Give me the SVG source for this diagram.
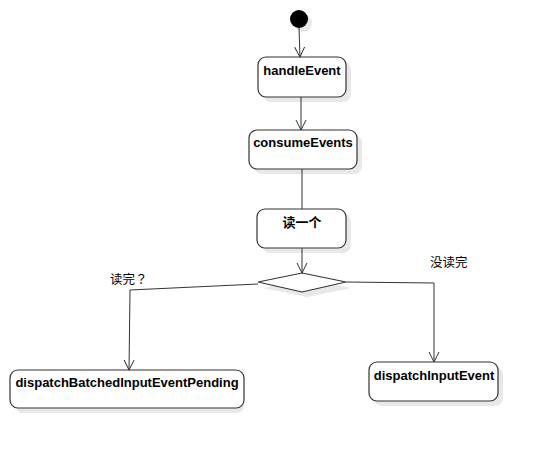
<svg xmlns="http://www.w3.org/2000/svg" width="539" height="449" viewBox="0 0 539 449">
<style>
.box{fill:#fff;stroke:#333;stroke-width:1.2}
.sh{fill:#e8e8e8}
.t{font-family:"Liberation Sans","Noto Sans CJK SC",sans-serif;font-weight:bold;font-size:13px;fill:#000}
.l{font-family:"Liberation Sans","Noto Sans CJK SC",sans-serif;font-size:12.5px;fill:#000}
.c{fill:none;stroke:#333;stroke-width:1}
</style>
<defs>
<marker id="arr" markerWidth="12" markerHeight="14" refX="10" refY="7" orient="auto" markerUnits="userSpaceOnUse">
<path d="M0,2 L10,7 L0,12" fill="none" stroke="#333" stroke-width="1"/>
</marker>
</defs>
<rect width="539" height="449" fill="#fff"/>
<g id="start">
<circle cx="303" cy="23" r="9" class="sh"/>
<circle cx="299" cy="19" r="9" fill="#000"/>
</g>
<g id="handleEvent">
<rect x="263" y="62" width="88" height="40" rx="8" class="sh"/>
<rect x="258" y="57" width="88" height="40" rx="8" class="box"/>
<text x="302" y="75" text-anchor="middle" class="t">handleEvent</text>
</g>
<g id="consumeEvents">
<rect x="254" y="135" width="108" height="39" rx="8" class="sh"/>
<rect x="249" y="130" width="108" height="39" rx="8" class="box"/>
<text x="303" y="147" text-anchor="middle" class="t">consumeEvents</text>
</g>
<g id="readOne">
<rect x="262" y="214" width="89" height="39" rx="8" class="sh"/>
<rect x="257" y="209" width="89" height="39" rx="8" class="box"/>
<text x="302" y="227" text-anchor="middle" class="t">读一个</text>
</g>
<g id="decision">
<polygon points="307,278 351,288 307,297 263,288" class="sh"/>
<polygon points="302,273 346,282 302,292 258,282" class="box"/>
</g>
<g id="dispatchBatched">
<rect x="15" y="375" width="229" height="38" rx="8" class="sh"/>
<rect x="10" y="370" width="234" height="38" rx="8" class="box"/>
<text x="127" y="387" text-anchor="middle" class="t">dispatchBatchedInputEventPending</text>
</g>
<g id="dispatchInput">
<rect x="374" y="367" width="129" height="39" rx="8" class="sh"/>
<rect x="369" y="362" width="129" height="39" rx="8" class="box"/>
<text x="434" y="380" text-anchor="middle" class="t">dispatchInputEvent</text>
</g>
<g id="connectors">
<line x1="299" y1="28" x2="300" y2="57" class="c" marker-end="url(#arr)"/>
<line x1="301" y1="97" x2="301" y2="130" class="c" marker-end="url(#arr)"/>
<line x1="302" y1="169" x2="302" y2="209" class="c"/>
<line x1="302" y1="248" x2="302" y2="273" class="c" marker-end="url(#arr)"/>
<polyline points="258,284 130,290 129,370" class="c" marker-end="url(#arr)"/>
<polyline points="346,282 434,283 434,362" class="c" marker-end="url(#arr)"/>
<text x="110" y="284" class="l" style="font-family:'Noto Sans CJK TC','Noto Sans CJK SC',sans-serif">读完？</text>
<text x="430" y="267" class="l">没读完</text>
</g>
</svg>
